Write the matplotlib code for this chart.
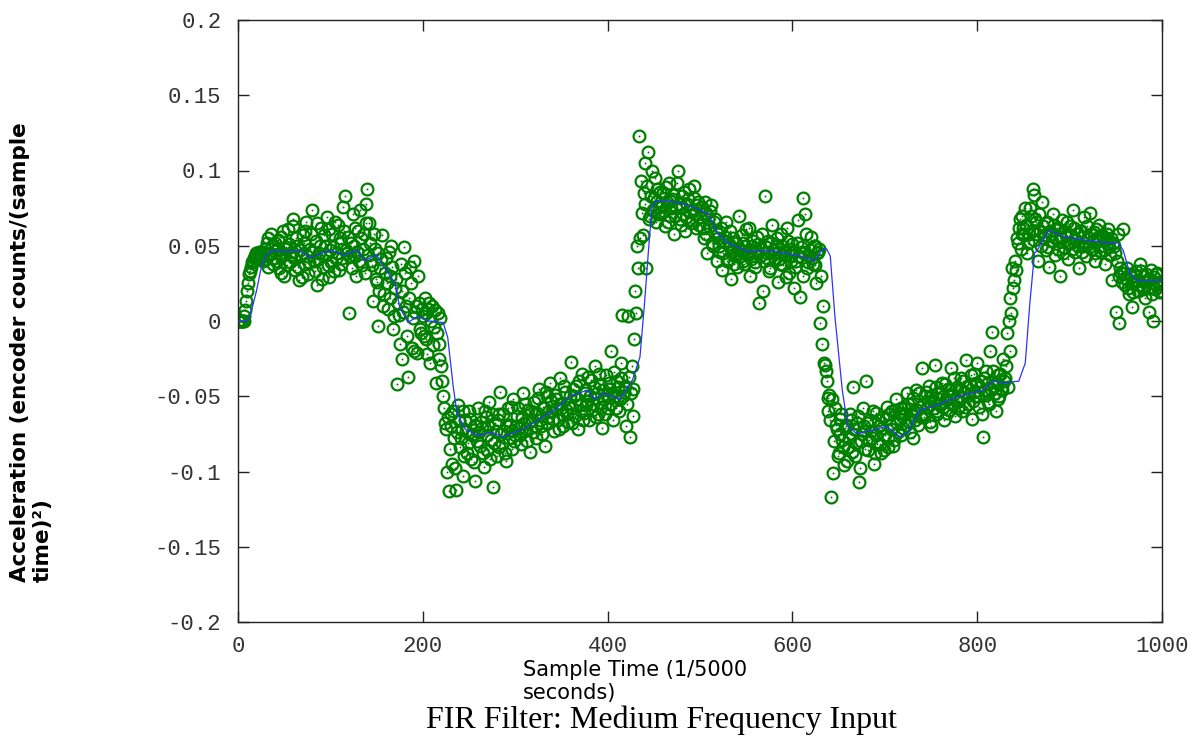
import numpy as np
import matplotlib
matplotlib.use("Agg")
import matplotlib.pyplot as plt

# Raw accelerometer samples, even sample indices 0, 2, 4, ...
raw_acc_even = [
    0, 0, 0, 0, 0.007, 0.020, 0.031, 0.036, 0.040, 0.043,
    0.044, 0.042, 0.045, 0.043, 0.046, 0.041, 0.055, 0.044, 0.058, 0.038,
    0.052, 0.047, 0.035, 0.056, 0.043, 0.030, 0.049, 0.061, 0.039, 0.046,
    0.068, 0.034, 0.050, 0.027, 0.044, 0.057, 0.038, 0.066, 0.031, 0.048,
    0.074, 0.040, 0.053, 0.024, 0.045, 0.062, 0.036, 0.050, 0.069, 0.029,
    0.047, 0.058, 0.033, 0.042, 0.064, 0.055, 0.038, 0.076, 0.083, 0.045,
    0.005, 0.052, 0.071, 0.044, 0.030, 0.060, 0.074, 0.037, 0.058, 0.078,
    0.088, 0.065, 0.040, 0.013, 0.048, 0.026, -0.003, 0.035, 0.057, 0.018,
    0.042, 0.008, 0.030, 0.050, -0.005, 0.022, -0.042, 0.004, 0.038, -0.025,
    0.049, 0.010, -0.037, 0.036, -0.018, 0.040, 0.006, -0.021, 0.012, -0.008,
    0.003, 0.015, -0.012, 0.008, -0.028, 0.010, -0.004, -0.041, 0.005, -0.015,
    -0.030, -0.050, -0.068, -0.100, -0.113, -0.062, -0.095, -0.078, -0.112, -0.056,
    -0.084, -0.072, -0.103, -0.066, -0.088, -0.060, -0.092, -0.075, -0.106, -0.070,
    -0.058, -0.083, -0.071, -0.097, -0.064, -0.086, -0.054, -0.079, -0.110, -0.068,
    -0.090, -0.062, -0.047, -0.081, -0.073, -0.093, -0.058, -0.069, -0.085, -0.052,
    -0.076, -0.063, -0.071, -0.082, -0.048, -0.068, -0.072, -0.059, -0.087, -0.066,
    -0.054, -0.078, -0.061, -0.045, -0.070, -0.057, -0.083, -0.050, -0.064, -0.041,
    -0.060, -0.073, -0.052, -0.066, -0.038, -0.058, -0.070, -0.047, -0.062, -0.055,
    -0.027, -0.068, -0.050, -0.043, -0.072, -0.056, -0.035, -0.061, -0.046, -0.053,
    -0.066, -0.039, -0.055, -0.030, -0.048, -0.062, -0.042, -0.071, -0.052, -0.036,
    -0.058, -0.045, -0.020, -0.066, -0.050, -0.040, -0.060, -0.028, 0.004, -0.047,
    -0.070, 0.003, -0.077, -0.030, -0.045, 0.020, 0.050, 0.123, 0.093, 0.057,
    0.105, 0.035, 0.112, 0.070, 0.100, 0.082, 0.066, 0.088, 0.076, 0.072,
    0.085, 0.063, 0.079, 0.092, 0.070, 0.081, 0.058, 0.075, 0.100, 0.068,
    0.083, 0.071, 0.060, 0.078, 0.088, 0.065, 0.074, 0.090, 0.062, 0.079,
    0.069, 0.076, 0.055, 0.072, 0.045, 0.063, 0.077, 0.050, 0.068, 0.040,
    0.058, 0.046, 0.034, 0.053, 0.066, 0.041, 0.049, 0.028, 0.055, 0.043,
    0.036, 0.070, 0.047, 0.052, 0.038, 0.061, 0.044, 0.030, 0.050, 0.046,
    0.039, 0.056, 0.012, 0.048, 0.020, 0.083, 0.042, 0.053, 0.035, 0.064,
    0.045, 0.050, 0.026, 0.041, 0.058, 0.037, 0.047, 0.062, 0.032, 0.044,
    0.051, 0.022, 0.040, 0.067, 0.016, 0.046, 0.082, 0.071, 0.035, 0.043,
    0.056, 0.038, 0.050, 0.025, 0.046, -0.001, -0.015, -0.028, -0.033, -0.051,
    -0.049, -0.117, -0.101, -0.058, -0.072, -0.088, -0.065, -0.079, -0.096, -0.070,
    -0.084, -0.062, -0.075, -0.044, -0.090, -0.068, -0.107, -0.080, -0.058, -0.073,
    -0.040, -0.086, -0.066, -0.078, -0.095, -0.061, -0.082, -0.070, -0.088, -0.064,
    -0.076, -0.057, -0.084, -0.069, -0.060, -0.079, -0.052, -0.074, -0.065, -0.058,
    -0.071, -0.062, -0.048, -0.067, -0.055, -0.078, -0.060, -0.046, -0.069, -0.057,
    -0.031, -0.064, -0.050, -0.058, -0.043, -0.070, -0.053, -0.029, -0.062, -0.048,
    -0.056, -0.041, -0.066, -0.052, -0.045, -0.059, -0.031, -0.049, -0.063, -0.044,
    -0.053, -0.038, -0.060, -0.047, -0.026, -0.055, -0.042, -0.065, -0.035, -0.050,
    -0.028, -0.057, -0.040, -0.077, -0.046, -0.033, -0.054, -0.020, -0.007, -0.043,
    -0.060, -0.036, -0.050, -0.045, -0.025, -0.038, -0.008, 0.000, 0.015, 0.035,
    0.027, 0.034, 0.052, 0.068, 0.058, 0.062, 0.075, 0.045, 0.058, 0.070,
    0.088, 0.084, 0.066, 0.040, 0.060, 0.079, 0.055, 0.047, 0.065, 0.036,
    0.058, 0.071, 0.044, 0.062, 0.053, 0.030, 0.067, 0.049, 0.057, 0.041,
    0.063, 0.052, 0.074, 0.046, 0.058, 0.035, 0.060, 0.050, 0.069, 0.043,
    0.055, 0.072, 0.048, 0.059, 0.040, 0.053, 0.064, 0.046, 0.056, 0.038,
    0.052, 0.061, 0.044, 0.027, 0.050, 0.006, 0.058, -0.001, 0.032, 0.061,
    0.024, 0.035, 0.018, 0.029, 0.009, 0.026, 0.033, 0.020, 0.038, 0.023,
    0.030, 0.015, 0.027, 0.006, 0.034, 0.000, 0.021, 0.031, 0.025, 0.019,
]

# Raw accelerometer samples, odd sample indices 1, 3, 5, ...
raw_acc_odd = [
    0, 0, 0, 0.003, 0.013, 0.025, 0.033, 0.039, 0.042, 0.045,
    0.041, 0.046, 0.043, 0.040, 0.048, 0.052, 0.036, 0.045, 0.050, 0.042,
    0.040, 0.054, 0.045, 0.032, 0.060, 0.048, 0.037, 0.051, 0.044, 0.063,
    0.042, 0.055, 0.036, 0.047, 0.029, 0.052, 0.060, 0.043, 0.039, 0.058,
    0.046, 0.033, 0.065, 0.041, 0.050, 0.028, 0.057, 0.044, 0.037, 0.061,
    0.039, 0.049, 0.066, 0.045, 0.034, 0.052, 0.042, 0.060, 0.047, 0.056,
    0.043, 0.035, 0.050, 0.062, 0.046, 0.040, 0.055, 0.048, 0.032, 0.065,
    0.044, 0.052, 0.037, 0.058, 0.028, 0.045, 0.020, 0.041, 0.010, 0.032,
    0.025, 0.046, 0.015, 0.036, 0.003, 0.028, 0.012, -0.015, 0.020, 0.006,
    0.032, -0.010, 0.015, 0.025, 0.002, -0.020, 0.010, 0.030, -0.005, 0.008,
    -0.010, 0.005, -0.022, 0.012, 0.000, -0.016, 0.007, -0.008, -0.025, 0.002,
    -0.040, -0.058, -0.072, -0.064, -0.085, -0.070, -0.060, -0.098, -0.074, -0.066,
    -0.078, -0.060, -0.090, -0.073, -0.081, -0.065, -0.076, -0.094, -0.069, -0.080,
    -0.074, -0.067, -0.088, -0.060, -0.076, -0.070, -0.092, -0.062, -0.081, -0.073,
    -0.066, -0.084, -0.075, -0.062, -0.088, -0.070, -0.078, -0.057, -0.073, -0.080,
    -0.070, -0.058, -0.076, -0.064, -0.073, -0.055, -0.080, -0.067, -0.060, -0.074,
    -0.062, -0.070, -0.051, -0.066, -0.075, -0.058, -0.047, -0.068, -0.060, -0.053,
    -0.065, -0.049, -0.058, -0.072, -0.055, -0.062, -0.043, -0.059, -0.067, -0.050,
    -0.058, -0.045, -0.063, -0.052, -0.040, -0.060, -0.066, -0.048, -0.056, -0.037,
    -0.050, -0.059, -0.044, -0.064, -0.051, -0.035, -0.057, -0.046, -0.062, -0.049,
    -0.041, -0.055, -0.048, -0.034, -0.058, -0.044, -0.052, -0.038, -0.050, -0.043,
    -0.055, -0.037, -0.048, -0.063, -0.012, 0.005, 0.035, 0.055, 0.072, 0.085,
    0.078, 0.090, 0.068, 0.083, 0.074, 0.095, 0.080, 0.071, 0.086, 0.077,
    0.073, 0.089, 0.066, 0.080, 0.075, 0.084, 0.070, 0.092, 0.078, 0.064,
    0.076, 0.086, 0.069, 0.081, 0.073, 0.067, 0.082, 0.071, 0.077, 0.064,
    0.074, 0.062, 0.079, 0.058, 0.068, 0.073, 0.052, 0.066, 0.060, 0.055,
    0.050, 0.062, 0.045, 0.056, 0.040, 0.051, 0.060, 0.046, 0.038, 0.052,
    0.048, 0.043, 0.057, 0.040, 0.050, 0.046, 0.062, 0.041, 0.053, 0.036,
    0.047, 0.051, 0.043, 0.058, 0.040, 0.049, 0.045, 0.033, 0.052, 0.047,
    0.041, 0.055, 0.046, 0.038, 0.050, 0.044, 0.029, 0.053, 0.048, 0.040,
    0.046, 0.036, 0.052, 0.043, 0.049, 0.030, 0.045, 0.058, 0.039, 0.047,
    0.042, 0.050, 0.037, 0.045, 0.048, 0.030, 0.010, -0.029, -0.040, -0.060,
    -0.066, -0.052, -0.080, -0.069, -0.090, -0.075, -0.062, -0.084, -0.071, -0.093,
    -0.078, -0.066, -0.087, -0.072, -0.081, -0.063, -0.098, -0.075, -0.070, -0.085,
    -0.068, -0.079, -0.073, -0.060, -0.088, -0.076, -0.066, -0.082, -0.071, -0.086,
    -0.065, -0.078, -0.062, -0.072, -0.083, -0.059, -0.068, -0.061, -0.076, -0.063,
    -0.058, -0.069, -0.055, -0.074, -0.062, -0.051, -0.066, -0.059, -0.048, -0.064,
    -0.056, -0.062, -0.047, -0.053, -0.067, -0.049, -0.058, -0.044, -0.060, -0.052,
    -0.048, -0.057, -0.042, -0.061, -0.050, -0.046, -0.055, -0.038, -0.052, -0.058,
    -0.046, -0.051, -0.040, -0.057, -0.044, -0.049, -0.036, -0.053, -0.047, -0.041,
    -0.050, -0.044, -0.062, -0.038, -0.049, -0.042, -0.055, -0.045, -0.033, -0.048,
    -0.041, -0.052, -0.035, -0.046, -0.040, -0.030, -0.044, -0.020, 0.005, 0.022,
    0.040, 0.055, 0.062, 0.048, 0.070, 0.057, 0.064, 0.052, 0.075, 0.060,
    0.054, 0.068, 0.058, 0.071, 0.050, 0.063, 0.057, 0.066, 0.049, 0.060,
    0.053, 0.064, 0.056, 0.048, 0.061, 0.055, 0.045, 0.059, 0.066, 0.052,
    0.057, 0.048, 0.062, 0.054, 0.050, 0.060, 0.046, 0.056, 0.052, 0.063,
    0.049, 0.058, 0.053, 0.045, 0.061, 0.055, 0.050, 0.057, 0.047, 0.054,
    0.058, 0.049, 0.055, 0.052, 0.045, 0.040, 0.030, 0.035, 0.026, 0.032,
    0.028, 0.022, 0.031, 0.025, 0.019, 0.030, 0.027, 0.024, 0.033, 0.021,
    0.026, 0.031, 0.022, 0.028, 0.018, 0.029, 0.024, 0.032, 0.026, 0.020,
]

raw_time = np.concatenate([np.arange(len(raw_acc_even)) * 2,
                           np.arange(len(raw_acc_odd)) * 2 + 1])
raw_acc = np.concatenate([raw_acc_even, raw_acc_odd])

# FIR filter output, sampled at its corners
fir_time = [0, 10, 13, 20, 26, 32, 38, 50, 67, 78, 90, 100, 114, 129, 137, 150,
            161, 170, 175, 184, 194, 206, 222, 227, 233, 237, 246, 260, 275, 286,
            300, 314, 329, 345, 359, 378, 386, 395, 413, 427, 435, 440, 444, 448,
            453, 464, 480, 495, 509, 519, 530, 552, 572, 584, 610, 624, 633, 637,
            641, 646, 654, 660, 670, 690, 702, 716, 725, 730, 738, 756, 780, 806,
            817, 828, 845, 852, 857, 862, 865, 877, 887, 893, 914, 940, 952, 958,
            965, 973, 1000]
fir_acc = [0.0, 0.0, 0.003, 0.020, 0.038, 0.045, 0.047, 0.046, 0.047, 0.042,
           0.045, 0.047, 0.044, 0.047, 0.040, 0.044, 0.033, 0.025, 0.009, -0.001,
           0.003, 0.0, -0.001, -0.011, -0.044, -0.061, -0.072, -0.076, -0.074, -0.077,
           -0.074, -0.070, -0.064, -0.058, -0.050, -0.046, -0.052, -0.048, -0.052, -0.039,
           -0.024, 0.012, 0.045, 0.076, 0.080, 0.080, 0.078, 0.075, 0.071, 0.058,
           0.052, 0.046, 0.047, 0.046, 0.043, 0.040, 0.048, 0.048, 0.043, 0.003,
           -0.046, -0.070, -0.075, -0.072, -0.070, -0.077, -0.074, -0.068, -0.059, -0.056,
           -0.050, -0.046, -0.040, -0.041, -0.040, -0.028, 0.012, 0.045, 0.047, 0.060,
           0.058, 0.056, 0.054, 0.052, 0.052, 0.047, 0.032, 0.027, 0.027]

x_ticks = [0, 200, 400, 600, 800, 1000]
y_ticks = [-0.2, -0.15, -0.1, -0.05, 0, 0.05, 0.1, 0.15, 0.2]
y_tick_labels = ["-0.2", "-0.15", "-0.1", "-0.05", "0", "0.05", "0.1", "0.15", "0.2"]

fig = plt.figure(figsize=(11.95, 7.4), dpi=100)
ax = fig.add_axes([238 / 1195, 1 - 622 / 740, (1162 - 238) / 1195, (622 - 20) / 740])

green = "#008000"
ax.plot(raw_time, raw_acc, linestyle="none", marker="o", markersize=8.5,
        markerfacecolor="none", markeredgecolor=green, markeredgewidth=1.6, zorder=2)
ax.plot(raw_time, raw_acc, linestyle="none", marker="o", markersize=1.4,
        markerfacecolor=green, markeredgecolor=green, markeredgewidth=0, zorder=2)
ax.plot(fir_time, fir_acc, color="#3030ff", linewidth=0.9, zorder=3)

ax.set_xlim(0, 1000)
ax.set_ylim(-0.2, 0.2)
ax.set_xticks(x_ticks)
ax.set_yticks(y_ticks)
ax.set_yticklabels(y_tick_labels)
ax.tick_params(direction="in", length=8, width=1, top=True, right=True,
               colors="#222222", labelcolor="#333333")
ax.tick_params(axis="y", pad=12)
ax.tick_params(axis="x", pad=10)
for lbl in ax.get_xticklabels() + ax.get_yticklabels():
    lbl.set_fontfamily("Liberation Mono")
    lbl.set_fontsize(16)
for sp in ax.spines.values():
    sp.set_color("#222222")
    sp.set_linewidth(1)

fig.text(523 / 1195, 1 - 660 / 740, "Sample Time (1/5000\nseconds)",
         ha="left", va="top", fontsize=15, family="DejaVu Sans",
         linespacing=1.2)
fig.text(661 / 1195, 1 - 720 / 740, "FIR Filter: Medium Frequency Input",
         ha="center", va="center", fontsize=23, family="Liberation Serif")
fig.text(10 / 1195, 1 - 582 / 740, "Acceleration (encoder counts/(sample\ntime)²)",
         rotation=90, ha="left", va="bottom", multialignment="left",
         fontsize=15.5, fontweight="bold", family="DejaVu Sans", linespacing=1.15)

fig.savefig("out.png", dpi=100)
